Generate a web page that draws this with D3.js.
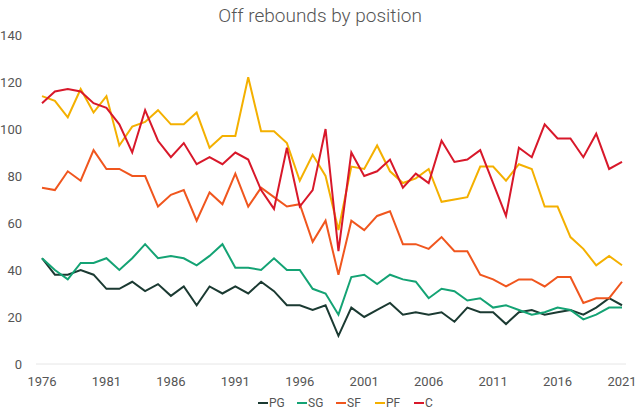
<!DOCTYPE html><html><head><meta charset="utf-8"><script src="https://cdn.jsdelivr.net/npm/d3@7"></script>
<style>body{margin:0;background:#fff;font-family:Roboto,sans-serif}</style></head><body><svg id="c" width="640" height="410"></svg>
<script>
const years = d3.range(1976, 2022);
const seriesNames = ["PG","SG","SF","PF","C"];
const colors = ["#1b3a32","#14a374","#f0561e","#f4b000","#d8182a"];
const PG = [45,38,38,40,38,32,32,35,31,34,29,33,25,33,30,33,30,35,31,25,25,23,25,12,24,20,23,26,21,22,21,22,18,24,22,22,17,22,23,21,22,23,21,24,28,25];
const SG = [45,40,36,43,43,45,40,45,51,45,46,45,42,46,51,41,41,40,45,40,40,32,30,21,37,38,34,38,36,35,28,32,31,27,28,24,25,23,21,22,24,23,19,21,24,24];
const SF = [75,74,82,78,91,83,83,80,80,67,72,74,61,73,68,81,67,75,71,67,68,52,61,38,61,57,63,65,51,51,49,54,48,48,38,36,33,36,36,33,37,37,26,28,28,35];
const PF = [114,112,105,117,107,114,93,101,103,108,102,102,107,92,97,97,122,99,99,94,78,89,80,57,84,83,93,82,77,79,83,69,70,71,84,84,78,85,83,67,67,54,49,42,46,42];
const C  = [111,116,117,116,111,109,102,90,108,95,88,94,85,88,85,90,87,74,66,92,67,74,100,48,90,80,82,87,75,81,77,95,86,87,91,77,63,92,88,102,96,96,88,98,83,86];
const yTicks = [0,20,40,60,80,100,120,140];
const xTicks = [1976,1981,1986,1991,1996,2001,2006,2011,2016,2021];
const data = [PG,SG,SF,PF,C];
const svg = d3.select("#c");
const x = d3.scaleLinear().domain([1976,2021]).range([42,622]);
const y = d3.scaleLinear().domain([0,140]).range([364,35]);
svg.append("line").attr("x1",36).attr("x2",626).attr("y1",y(0)).attr("y2",y(0)).attr("stroke","#e6e6e6");
svg.selectAll(".yt").data(yTicks).join("text").attr("x",22).attr("y",d=>y(d)+5).attr("text-anchor","end")
 .attr("font-size",13).attr("fill","#555").text(d=>d);
svg.selectAll(".xt").data(xTicks).join("text").attr("x",d=>x(d)).attr("y",386).attr("text-anchor","middle")
 .attr("font-size",13).attr("fill","#555").text(d=>d);
const line = d3.line().x((d,i)=>x(years[i])).y(d=>y(d));
data.forEach((s,i)=>svg.append("path").attr("d",line(s)).attr("fill","none").attr("stroke",colors[i]).attr("stroke-width",2));
svg.append("text").attr("x",320).attr("y",22).attr("text-anchor","middle").attr("font-size",19).attr("font-weight",300).attr("fill","#555").text("Off rebounds by position");
const lg = svg.append("g");
const lx = [258,297,336,375,414];
seriesNames.forEach((n,i)=>{
 lg.append("line").attr("x1",lx[i]).attr("x2",lx[i]+10).attr("y1",403).attr("y2",403).attr("stroke",colors[i]).attr("stroke-width",2);
 lg.append("text").attr("x",lx[i]+11).attr("y",407).attr("font-size",12).attr("fill","#555").text(n);
});
</script></body></html>
